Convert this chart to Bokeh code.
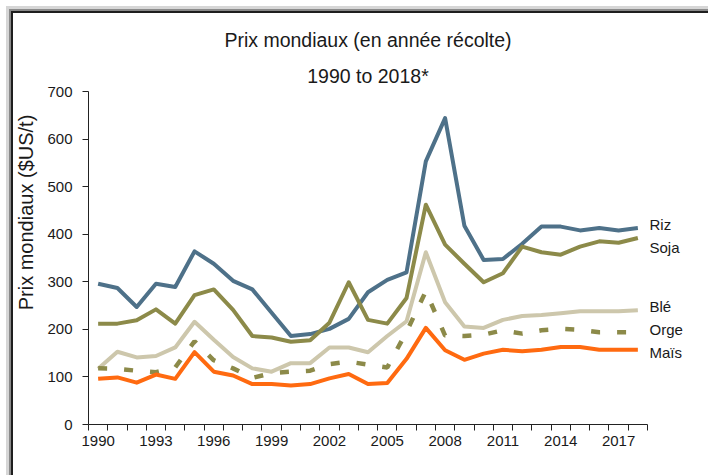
from bokeh.plotting import figure
from bokeh.models import FixedTicker, Range1d
from bokeh.core.properties import value
from bokeh.embed import file_html
from bokeh.resources import INLINE

years = list(range(1990, 2019))
riz = [296, 287, 247, 296, 289, 364, 338, 302, 284, 235,
       186, 190, 201, 222, 278, 304, 320, 553, 644, 418,
       346, 348, 380, 416, 416, 408, 413, 408, 413]
soja = [212, 212, 219, 242, 212, 272, 284, 241, 186, 183,
        174, 177, 214, 299, 220, 212, 266, 462, 378, 338,
        299, 318, 374, 362, 357, 374, 385, 382, 392]
ble = [117, 153, 141, 144, 162, 216, 178, 142, 118, 111,
       129, 129, 162, 162, 152, 186, 217, 362, 257, 206,
       203, 220, 228, 230, 234, 238, 238, 238, 240]
orge = [118, 117, 113, 110, 120, 175, 135, 118, 98, 108,
        111, 113, 127, 132, 126, 120, 195, 280, 187, 186,
        189, 198, 191, 198, 201, 199, 194, 194, 194]
mais = [96, 99, 88, 105, 96, 152, 111, 103, 85, 85,
        82, 85, 97, 106, 85, 87, 138, 203, 156, 136,
        149, 157, 154, 157, 163, 163, 157, 157, 157]
tick_years = [1990, 1993, 1996, 1999, 2002, 2005, 2008, 2011, 2014, 2017]
y_ticks = [0, 100, 200, 300, 400, 500, 600, 700]
series_names = ["Riz", "Soja", "Blé", "Orge", "Maïs"]

title1 = "Prix mondiaux (en année récolte)"
title2 = "1990 to 2018*"
y_label = "Prix mondiaux ($US/t)"

FONT = "Liberation Sans"
TXT = "#1a1a1a"
AX = "#222222"

# page geometry (pixels in the window; the page body has no margin)
fig_left, fig_top, fig_w, fig_h = 0, 0, 708, 475
axis_x_px, axis_top_px, axis_bot_px = 88.0, 91.0, 424.0   # y axis line, 700 level, 0 level
xa_end_px = 647.0                                          # right end of x axis
x_start, x_end_axis = years[0] - 0.5, years[-1] + 0.5
px_per_year = (xa_end_px - axis_x_px) / (x_end_axis - x_start)
px_per_unit = (axis_bot_px - axis_top_px) / 700.0
frame_top_px = fig_top
frame_right_px = fig_left + fig_w
x_range = Range1d(x_start, x_start + (frame_right_px - axis_x_px) / px_per_year)
y_range = Range1d(0, (axis_bot_px - frame_top_px) / px_per_unit)

def dx(px):
    return x_start + (px - axis_x_px) / px_per_year

def dy(py):
    return (axis_bot_px - py) / px_per_unit

p = figure(width=fig_w, height=fig_h, x_range=x_range, y_range=y_range,
           output_backend="svg", toolbar_location=None, title=None,
           min_border_left=int(axis_x_px - fig_left), min_border_right=0,
           min_border_top=0, min_border_bottom=int(fig_top + fig_h - axis_bot_px))
p.border_fill_color = None
p.background_fill_color = None
p.outline_line_color = None
p.styles = {"background-color": "white",
            "box-shadow": "inset 6px 6px 0 0 #ffffff, inset 9px 9px 0 0 #d6d6d6, "
                          "inset 11px 11px 0 0 #8a8a8a, inset 13px 13px 0 0 #1e1e1e"}
p.xgrid.visible = False
p.ygrid.visible = False

xa = p.xaxis[0]
xa.bounds = (x_start, x_end_axis)
xa.ticker = FixedTicker(ticks=tick_years, minor_ticks=[y - 0.5 for y in years] + [x_end_axis])
xa.major_tick_out = 0
xa.major_tick_in = 0
xa.minor_tick_out = 6
xa.minor_tick_in = 0
xa.minor_tick_line_color = AX
xa.axis_line_color = AX
xa.major_label_text_font = FONT
xa.major_label_text_font_size = "15px"
xa.major_label_text_color = TXT
xa.major_label_standoff = 5

ya = p.yaxis[0]
ya.bounds = (0, 700)
ya.ticker = FixedTicker(ticks=y_ticks)
ya.major_tick_out = 6
ya.major_tick_in = 0
ya.minor_tick_out = 0
ya.minor_tick_in = 0
ya.major_tick_line_color = AX
ya.axis_line_color = AX
ya.major_label_text_font = FONT
ya.major_label_text_font_size = "15px"
ya.major_label_text_color = TXT
ya.major_label_standoff = 10
ya.axis_label = y_label
ya.axis_label_text_font = FONT
ya.axis_label_text_font_size = "20px"
ya.axis_label_text_font_style = "normal"
ya.axis_label_text_color = TXT
ya.axis_label_standoff = 7

colors = {"Riz": "#4e7189", "Soja": "#8c8a49", "Blé": "#cdc7ac", "Orge": "#8c8a49", "Maïs": "#ff6a10"}
p.line(years, riz, line_color=colors["Riz"], line_width=4, line_join="round")
p.line(years, soja, line_color=colors["Soja"], line_width=4, line_join="round")
p.line(years, ble, line_color=colors["Blé"], line_width=4, line_join="round")
p.line(years, orge, line_color=colors["Orge"], line_width=4.5, line_dash="9 17")
p.line(years, mais, line_color=colors["Maïs"], line_width=4, line_join="round")

center_x = dx(367.5)
p.text(x=[center_x, center_x], y=[dy(39), dy(75.5)], text=[title1, title2],
       text_font=value(FONT), text_font_size="19.5px", text_color=TXT,
       text_align="center", text_baseline="alphabetic")

label_baselines_px = [224, 247, 306, 329, 352]
p.text(x=[dx(649)] * len(series_names), y=[dy(b) for b in label_baselines_px],
       text=series_names, text_font=value(FONT), text_font_size="15px", text_color=TXT,
       text_align="left", text_baseline="alphabetic")

open("out.html", "w").write(file_html(p, INLINE))
